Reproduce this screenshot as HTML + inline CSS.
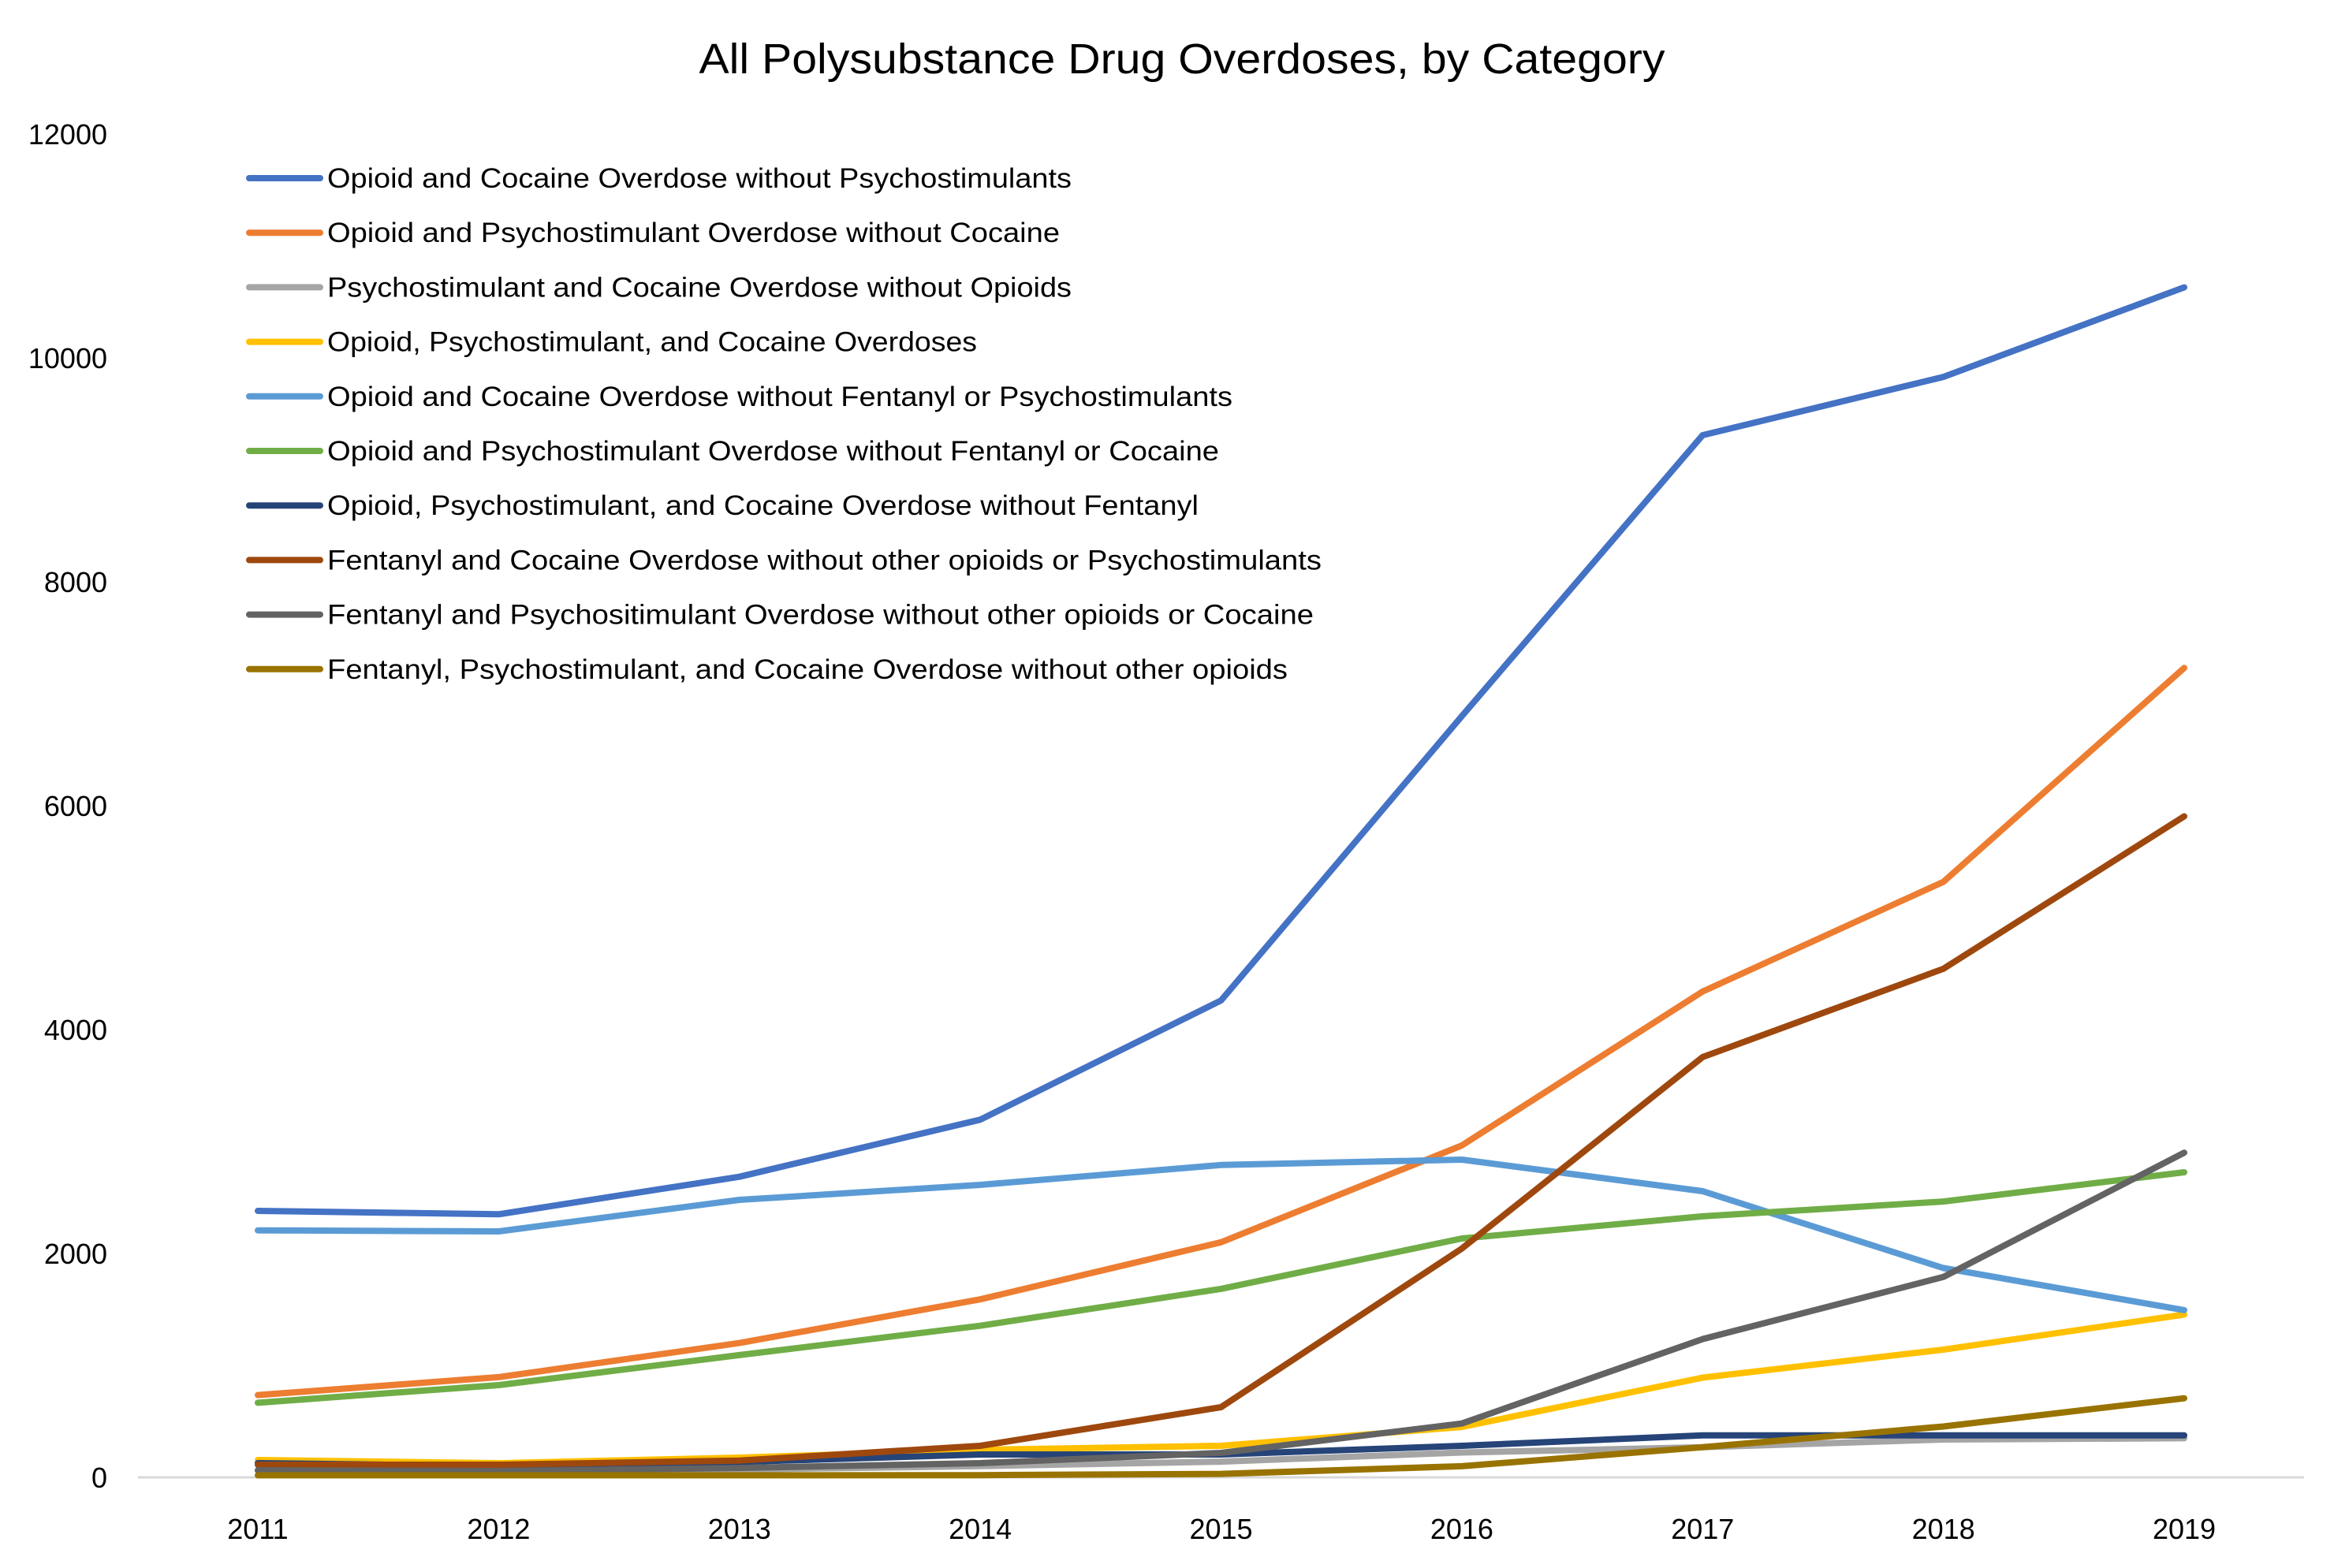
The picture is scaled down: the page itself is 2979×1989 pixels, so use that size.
<!DOCTYPE html>
<html><head><meta charset="utf-8"><style>
html,body{margin:0;padding:0;background:#fff;}
svg{display:block;font-family:"Liberation Sans",sans-serif;}
</style></head><body>
<svg id="chart" width="2979" height="1989" viewBox="0 0 2979 1989" xmlns="http://www.w3.org/2000/svg">
<rect width="2979" height="1989" fill="#fff"/>
<text x="1499" y="93" font-size="54" text-anchor="middle" fill="#000" textLength="1225" lengthAdjust="spacingAndGlyphs">All Polysubstance Drug Overdoses, by Category</text>
<g id="yaxis"></g>
<g id="xaxis"></g>
<g id="series"></g>
<g id="legend"></g>
</svg>
<script>
const years = [2011,2012,2013,2014,2015,2016,2017,2018,2019];
const yTicks = [0,2000,4000,6000,8000,10000,12000];
const seriesNames = [
"Opioid and Cocaine Overdose without Psychostimulants",
"Opioid and Psychostimulant Overdose without Cocaine",
"Psychostimulant and Cocaine Overdose without Opioids",
"Opioid, Psychostimulant, and Cocaine Overdoses",
"Opioid and Cocaine Overdose without Fentanyl or Psychostimulants",
"Opioid and Psychostimulant Overdose without Fentanyl or Cocaine",
"Opioid, Psychostimulant, and Cocaine Overdose without Fentanyl",
"Fentanyl and Cocaine Overdose without other opioids or Psychostimulants",
"Fentanyl and Psychositimulant Overdose without other opioids or Cocaine",
"Fentanyl, Psychostimulant, and Cocaine Overdose without other opioids"];
const s1 = [2380,2350,2685,3195,4260,6800,9310,9830,10630];
const s2 = [735,895,1200,1590,2100,2965,4340,5320,7230];
const s3 = [60,55,70,100,140,222,269,338,349];
const s4 = [155,127,176,246,282,450,891,1141,1454];
const s5 = [2206,2197,2479,2613,2790,2838,2556,1870,1494];
const s6 = [666,824,1092,1354,1684,2134,2332,2464,2725];
const s7 = [127,100,137,204,204,282,375,375,375];
const s8 = [113,113,150,282,627,2044,3754,4543,5905];
const s9 = [63,56,84,127,218,481,1235,1790,2900];
const s10 = [18,18,18,20,31,99,269,454,706];
const allSeries = [s1,s2,s3,s4,s5,s6,s7,s8,s9,s10];
const colors = ["#4472C4","#ED7D31","#A5A5A5","#FFC000","#5B9BD5","#70AD47","#264478","#9E480E","#636363","#997300"];
const legendWidths = [944,929,944,824,1148,1131,1105,1261,1251,1218];

const NS="http://www.w3.org/2000/svg";
const x0=327, x1=2770, yZero=1874, yTop=170, yMax=12000;
function xPos(i){return x0+(x1-x0)*i/(years.length-1);}
function yPos(v){return yZero-(yZero-yTop)*v/yMax;}
function mk(tag,attrs,parent){const e=document.createElementNS(NS,tag);for(const k in attrs)e.setAttribute(k,attrs[k]);parent.appendChild(e);return e;}

const yAx=document.getElementById('yaxis');
yTicks.forEach(t=>{
  const tx=mk('text',{x:136,y:yPos(t)+13,'font-size':36,'text-anchor':'end',fill:'#000'},yAx);
  
  
  tx.textContent=t;
});
const xAx=document.getElementById('xaxis');
const axl=mk('line',{x1:175,x2:2922,y1:yZero,y2:yZero,stroke:'#d9d9d9','stroke-width':3},xAx);


years.forEach((yr,i)=>{
  const tx=mk('text',{x:xPos(i),y:1952,'font-size':36,'text-anchor':'middle',fill:'#000'},xAx);
  
  
  tx.textContent=yr;
});

const sg=document.getElementById('series');
allSeries.forEach((vals,si)=>{
  const pts=vals.map((v,i)=>xPos(i).toFixed(1)+','+yPos(v).toFixed(1)).join(' ');
  const pl=mk('polyline',{points:pts,fill:'none',stroke:colors[si],'stroke-width':8,'stroke-linejoin':'round','stroke-linecap':'round'},sg);
  
  
});

const lg=document.getElementById('legend');
seriesNames.forEach((n,i)=>{
  const y=226+i*69.2;
  const g=mk('g',{},lg);
  
  
  mk('line',{x1:316,x2:406,y1:y,y2:y,stroke:colors[i],'stroke-width':8,'stroke-linecap':'round'},g);
  const tx=mk('text',{x:415,y:y+12,'font-size':35,fill:'#000',textLength:legendWidths[i],lengthAdjust:'spacingAndGlyphs'},g);
  tx.textContent=n;
});
</script>
</body></html>
